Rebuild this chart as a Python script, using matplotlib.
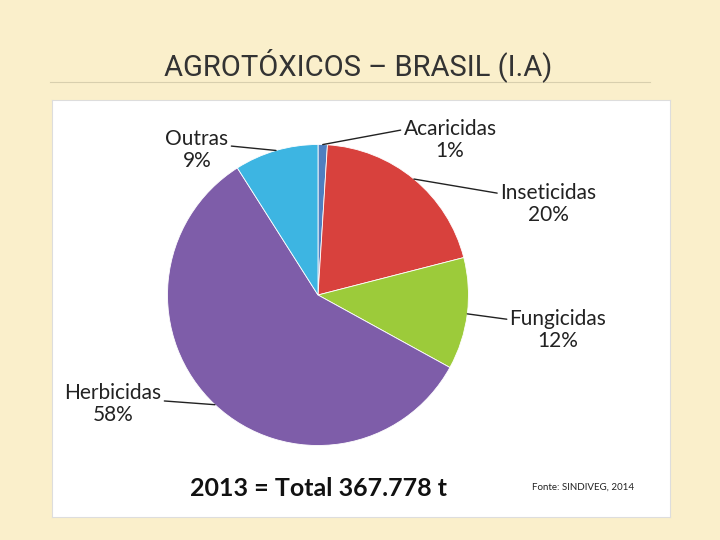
import numpy as np
import matplotlib.pyplot as plt

labels = ['Acaricidas', 'Inseticidas', 'Fungicidas', 'Herbicidas', 'Outras']
values = [1, 20, 12, 58, 9]
pct_text = ['1%', '20%', '12%', '58%', '9%']
colors = ['#4F7FC0', '#D8413D', '#9CCB3A', '#7E5DA9', '#3DB5E2']
# label text positions in figure pixels (x, y from bottom)
label_pos = [(450, 400), (548, 336), (558, 210), (113, 136), (197, 390)]

fig = plt.figure(figsize=(7.2, 5.4), dpi=100)
fig.patch.set_facecolor('#FAEFCB')

# white panel as its own axes behind the pie
panel = fig.add_axes([52 / 720, 1 - 517 / 540, 618 / 720, 417 / 540], zorder=0)
panel.set_xticks([])
panel.set_yticks([])
for s in panel.spines.values():
    s.set_color('#dddddd')

fig.text(358 / 720, 1 - 65 / 540, 'AGROTÓXICOS – BRASIL (I.A)', ha='center', va='center',
         fontsize=21, color='#333333', family='Roboto')
fig.lines.append(plt.Line2D([50 / 720, 650 / 720], [1 - 82 / 540] * 2,
                            transform=fig.transFigure, color='#d8cfae', lw=0.8))

ax = fig.add_axes([166 / 720, 1 - 447 / 540, 304 / 720, 304 / 540], zorder=1)
wedges, _ = ax.pie(values, colors=colors, startangle=90, counterclock=False,
                   wedgeprops=dict(edgecolor='white', linewidth=0.6))
ax.set_aspect('equal')
ax.set_xlim(-1.01, 1.01)
ax.set_ylim(-1.01, 1.01)

for w, name, p, pos in zip(wedges, labels, pct_text, label_pos):
    ang = np.deg2rad((w.theta1 + w.theta2) / 2)
    x, y = np.cos(ang), np.sin(ang)
    ax.annotate(name + '\n' + p, xy=(x, y), xytext=pos, textcoords='figure pixels',
                ha='center', va='center', fontsize=15, family='Lato', color='#222222',
                linespacing=1.1, annotation_clip=False,
                arrowprops=dict(arrowstyle='-', color='#222222', lw=1,
                                shrinkA=0, shrinkB=0, relpos=(0, 0.75)))

fig.text(318 / 720, 1 - 488 / 540, '2013 = Total 367.778 t', ha='center', va='center',
         fontsize=18, fontweight='bold', family='Lato', color='#111111')
fig.text(583 / 720, 1 - 487 / 540, 'Fonte: SINDIVEG, 2014', ha='center', va='center',
         fontsize=7, family='Lato', color='#222222')

fig.savefig('out.png', dpi=100, facecolor=fig.get_facecolor())
